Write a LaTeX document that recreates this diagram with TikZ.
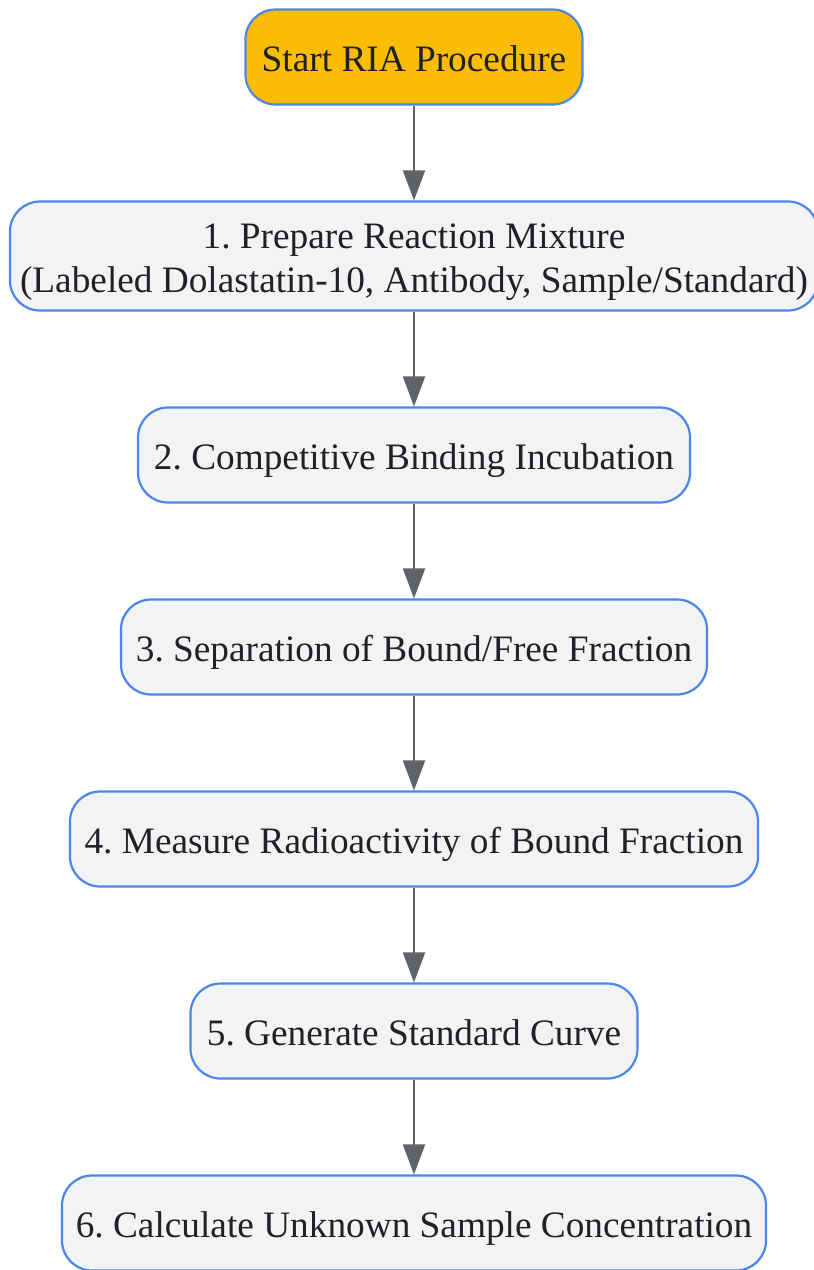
\documentclass[tikz,border=0pt]{standalone}
\usepackage{fontspec}
\setmainfont{Liberation Serif}
\usetikzlibrary{arrows.meta}
\definecolor{edgeblue}{HTML}{4A86E8}
\definecolor{startfill}{HTML}{FBBC04}
\definecolor{stepfill}{HTML}{F1F3F4}
\definecolor{txt}{HTML}{202124}
\definecolor{arrowgray}{HTML}{5F6368}
\tikzset{
  box/.style={draw=edgeblue, line width=2.2pt, rounded corners=30pt, text=txt,
    font=\fontsize{37.3}{44}\selectfont\frenchspacing, align=center, inner sep=0pt,
    minimum height=95pt, text height=29pt, text depth=0pt},
  stepbox/.style={box, fill=stepfill},
  startbox/.style={box, fill=startfill},
  flow/.style={draw=arrowgray, line width=2pt, -{Triangle[length=30pt,width=22pt]}}
}
\begin{document}
\begin{tikzpicture}[x=1pt,y=-1pt]
\useasboundingbox (0,0) rectangle (814,1270);
\node[startbox, minimum width=337pt] (s) at (414,57) {Start RIA Procedure};
\node[stepbox, minimum width=808pt, minimum height=109pt, text height=74pt, text depth=2pt] (n1) at (414,256) {1. Prepare Reaction Mixture\\(Labeled Dolastatin-10, Antibody, Sample/Standard)};
\node[stepbox, minimum width=552pt] (n2) at (414,455) {2. Competitive Binding Incubation};
\node[stepbox, minimum width=586pt] (n3) at (414,647) {3. Separation of Bound/Free Fraction};
\node[stepbox, minimum width=688pt] (n4) at (414,839) {4. Measure Radioactivity of Bound Fraction};
\node[stepbox, minimum width=447pt] (n5) at (414,1031) {5. Generate Standard Curve};
\node[stepbox, minimum width=704pt] (n6) at (414,1223) {6. Calculate Unknown Sample Concentration};
\draw[flow] (s) -- (n1);
\draw[flow] (n1) -- (n2);
\draw[flow] (n2) -- (n3);
\draw[flow] (n3) -- (n4);
\draw[flow] (n4) -- (n5);
\draw[flow] (n5) -- (n6);
\end{tikzpicture}
\end{document}
